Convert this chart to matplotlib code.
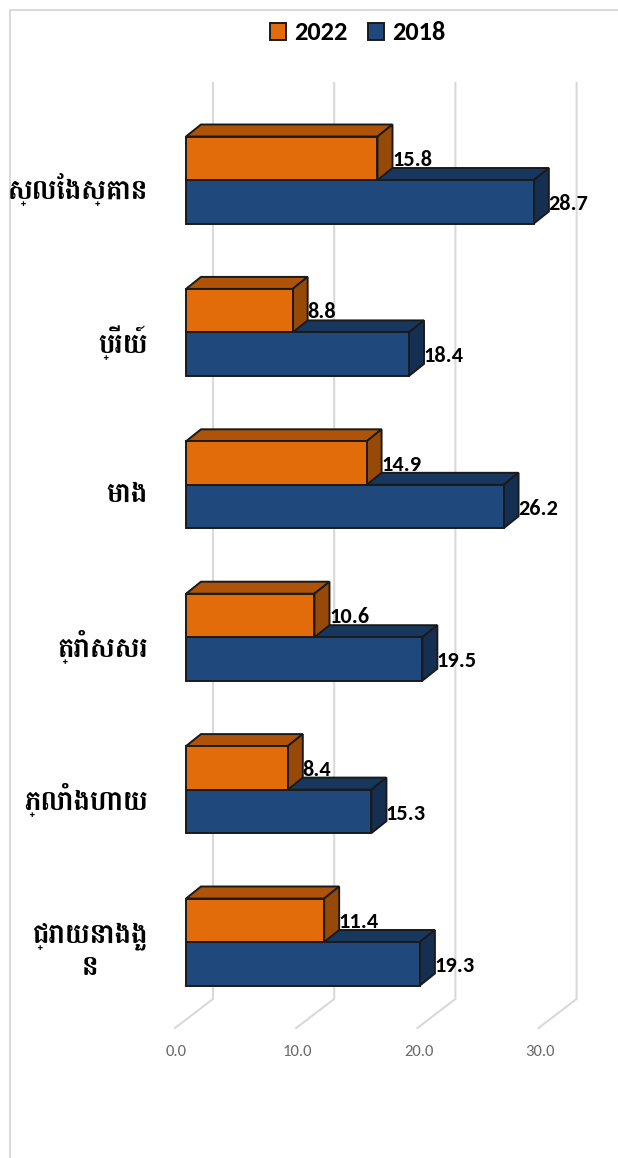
"""Khmer 3D-style horizontal bar chart, 2022 against 2018."""

import matplotlib

matplotlib.use("Agg")
import matplotlib.pyplot as plt
from matplotlib.patches import Patch, Polygon

CATEGORIES = ["ស្លែងស្គាន", "ប្រើយ៍", "មោង", "ត្រាំសសរ", "ភ្លាំងហាយ", "ជ្រោយនាងងួ\nន"]
VALUES_2022 = [15.8, 8.8, 14.9, 10.6, 8.4, 11.4]
VALUES_2018 = [28.7, 18.4, 26.2, 19.5, 15.3, 19.3]
TICKS = [0.0, 10.0, 20.0, 30.0]

WIDTH, HEIGHT = 618, 1158
X_ZERO, X_SCALE = 186, 12.12  # pixels
Y_ZERO, Y_SCALE = 180, 152.4
BAR_H = 43.5 / Y_SCALE
DX, DY = 15 / X_SCALE, 12 / Y_SCALE  # bar depth

ORANGE = ("#E36C0A", "#AE5307", "#974A07")
BLUE = ("#1F497D", "#17375E", "#152F52")
EDGE = "#1A1A1A"
GRID = "#D9D9D9"


def draw_bar(ax, value, top, colors):
    front, roof, side = colors
    bottom = top + BAR_H
    faces = [
        ([(0, top), (DX, top - DY), (value + DX, top - DY), (value, top)], roof),
        (
            [
                (value, top),
                (value + DX, top - DY),
                (value + DX, bottom - DY),
                (value, bottom),
            ],
            side,
        ),
        ([(0, top), (value, top), (value, bottom), (0, bottom)], front),
    ]
    for points, color in faces:
        ax.add_patch(
            Polygon(points, closed=True, facecolor=color, edgecolor=EDGE, linewidth=1.4)
        )


fig = plt.figure(figsize=(WIDTH / 100, HEIGHT / 100), dpi=100)
ax = fig.add_axes([0, 0, 1, 1])
ax.set_xlim(-X_ZERO / X_SCALE, (WIDTH - X_ZERO) / X_SCALE)
ax.set_ylim((HEIGHT - Y_ZERO) / Y_SCALE, -Y_ZERO / Y_SCALE)
ax.axis("off")


def px_x(px):
    return (px - X_ZERO) / X_SCALE


def px_y(px):
    return (px - Y_ZERO) / Y_SCALE


# chart area border, cut off by the crop on the right and at the bottom
ax.plot([px_x(9.5), px_x(9.5), px_x(618)], [px_y(1158), px_y(10), px_y(10)],
        color=GRID, linewidth=1.4)

# back wall gridlines and floor lines
for tick in TICKS:
    back = tick + 27 / X_SCALE
    front = tick - 11 / X_SCALE
    ax.plot([back, back, front], [px_y(83), px_y(999), px_y(1028)],
            color=GRID, linewidth=1.5, zorder=1)
    ax.text(front + 1.5 / X_SCALE, px_y(1052), f"{tick:.1f}", ha="center", va="center",
            fontsize=12, color="#6B6B6B", family="Carlito")

for i, category in enumerate(CATEGORIES):
    draw_bar(ax, VALUES_2018[i], i, BLUE)
    draw_bar(ax, VALUES_2022[i], i - BAR_H, ORANGE)
    ax.text(VALUES_2022[i] + 14.5 / X_SCALE, i - 20 / Y_SCALE, f"{VALUES_2022[i]:.1f}",
            ha="left", va="center", fontsize=16, fontweight="bold", family="Carlito")
    ax.text(VALUES_2018[i] + 14.5 / X_SCALE, i + 24 / Y_SCALE, f"{VALUES_2018[i]:.1f}",
            ha="left", va="center", fontsize=16, fontweight="bold", family="Carlito")
    ax.text(px_x(148), i + 10 / Y_SCALE, category, ha="right", va="center",
            multialignment="center", fontsize=20, fontweight="bold",
            family=["Battambang", "DejaVu Sans"])

handles = [
    Patch(facecolor=ORANGE[0], edgecolor=EDGE, linewidth=1.4, label="2022"),
    Patch(facecolor=BLUE[0], edgecolor=EDGE, linewidth=1.4, label="2018"),
]
ax.legend(
    handles=handles,
    loc="center",
    bbox_to_anchor=(357.5 / WIDTH, 1 - 33 / HEIGHT),
    ncol=2,
    frameon=False,
    prop={"family": "Carlito", "weight": "bold", "size": 19},
    handlelength=0.6,
    handleheight=0.6,
    handletextpad=0.3,
    columnspacing=0.8,
)

fig.savefig("out.png", dpi=100)
plt.close(fig)
